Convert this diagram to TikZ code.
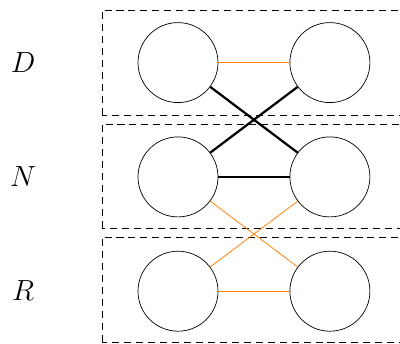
\documentclass[tikz,border=0pt]{standalone}
\usepackage{amsmath}
\usepackage{tikz}
\usetikzlibrary{positioning}

\begin{document}
\begin{tikzpicture}[auto, node distance=0.84cm and 1.78cm]
        \tikzstyle{vertex} = [circle, draw, minimum size=2cm, inner sep=0pt, line width=0.5pt]
        \tikzstyle{layer} = [draw, dash pattern=on 5pt off 3.5pt, line width=0.55pt]
        \tikzstyle{lbl} = [font=\fontsize{20}{22}\selectfont]
        \tikzstyle{weak} = [draw, orange, line width=0.55pt]
        \tikzstyle{strong} = [draw, line width=1.6pt]
        \useasboundingbox (0,0) rectangle (10,8.575);

        % layers
        \draw [layer] (2.55,5.7) rectangle (10.3,8.325);
        \draw [layer] (2.55,2.875) rectangle (10.3,5.475);
        \draw [layer] (2.55,0.025) rectangle (10.3,2.65);

        \node [vertex] (d1) at (4.45,7.01) {};
        \node [vertex, right=of d1] (d2) {};
        \node [vertex, below=of d1] (n1) {};
        \node [vertex, right=of n1] (n2) {};
        \node [vertex, below=of n1] (r1) {};
        \node [vertex, right=of r1] (r2) {};

        \node [lbl] (dl) at (0.575,7.01) {\(D\)};
        \node [lbl] (nl) at (0.575,4.15) {\(N\)};
        \node [lbl] (rl) at (0.575,1.3) {\(R\)};

        \draw [weak] (d1) -- (d2);
        \draw [strong] (d1) -- (n2);
        \draw [strong] (d2) -- (n1);
        \draw [strong] (n1) -- (n2);
        \draw [weak] (n1) -- (r2);
        \draw [weak] (n2) -- (r1);
        \draw [weak] (r1) -- (r2);
    \end{tikzpicture}
\end{document}
